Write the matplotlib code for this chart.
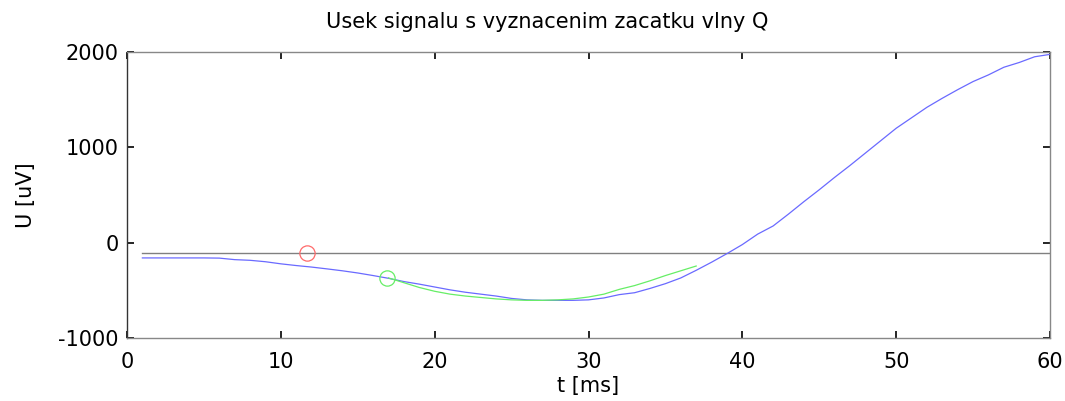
import matplotlib
matplotlib.use("Agg")
import matplotlib.pyplot as plt
import numpy as np

plt.rcParams['font.family'] = ['DejaVu Sans']
plt.rcParams['axes.unicode_minus'] = False

# Data
t_signal = list(range(1, 61))
u_signal = [-160, -160, -160, -160, -160, -162, -178, -185, -200, -222,
            -240, -256, -275, -295, -318, -345, -374, -408, -435, -465,
            -495, -520, -540, -560, -585, -600, -605, -605, -605, -600,
            -580, -545, -525, -480, -430, -370, -290, -205, -115, -20,
            90, 175, 300, 430, 555, 685, 810, 940, 1070, 1200,
            1310, 1420, 1515, 1605, 1690, 1760, 1840, 1890, 1950, 1975]
t_fit = list(range(17, 38))
u_fit = [-370, -420, -470, -510, -540, -560, -575, -590, -600, -605,
         -605, -600, -590, -570, -540, -490, -450, -400, -345, -295, -245]
threshold_t = [1, 60]
threshold_u = [-110, -110]
red_mark = (11.7, -110)
green_mark = (16.9, -374)

fig = plt.figure(figsize=(10.65, 4.01), dpi=100)
ax = fig.add_axes([127/1065, 1-338/401, 923/1065, 286/401])

ax.plot(threshold_t, threshold_u, color='#808080', lw=1.0)
ax.plot(t_signal, u_signal, color='#6a6aff', lw=0.9)
ax.plot(t_fit, u_fit, color='#66ee66', lw=0.9)
ax.plot([red_mark[0]], [red_mark[1]], 'o', mfc='none', mec='#ff6a6a', ms=11, mew=0.9)
ax.plot([green_mark[0]], [green_mark[1]], 'o', mfc='none', mec='#66ee66', ms=11, mew=0.9)

ax.set_xlim(0, 60)
ax.set_ylim(-1000, 2000)
ax.set_xticks([0, 10, 20, 30, 40, 50, 60])
ax.set_yticks([-1000, 0, 1000, 2000])
ax.tick_params(direction='in', length=5, width=1.2, color='black', labelsize=15,
               top=True, right=True)
ax.tick_params(axis='x', pad=10)
ax.tick_params(axis='y', pad=6)
for s in ax.spines.values():
    s.set_color('#888888')
    s.set_linewidth(1.0)
ax.spines['left'].set_color('#333333')

ax.set_title('Usek signalu s vyznacenim zacatku vlny Q', fontsize=15, x=0.455, pad=17)
ax.set_xlabel('t [ms]', fontsize=15, labelpad=3)
ax.set_ylabel('U [uV]', fontsize=15, labelpad=16)

fig.savefig('out.png', dpi=100)
